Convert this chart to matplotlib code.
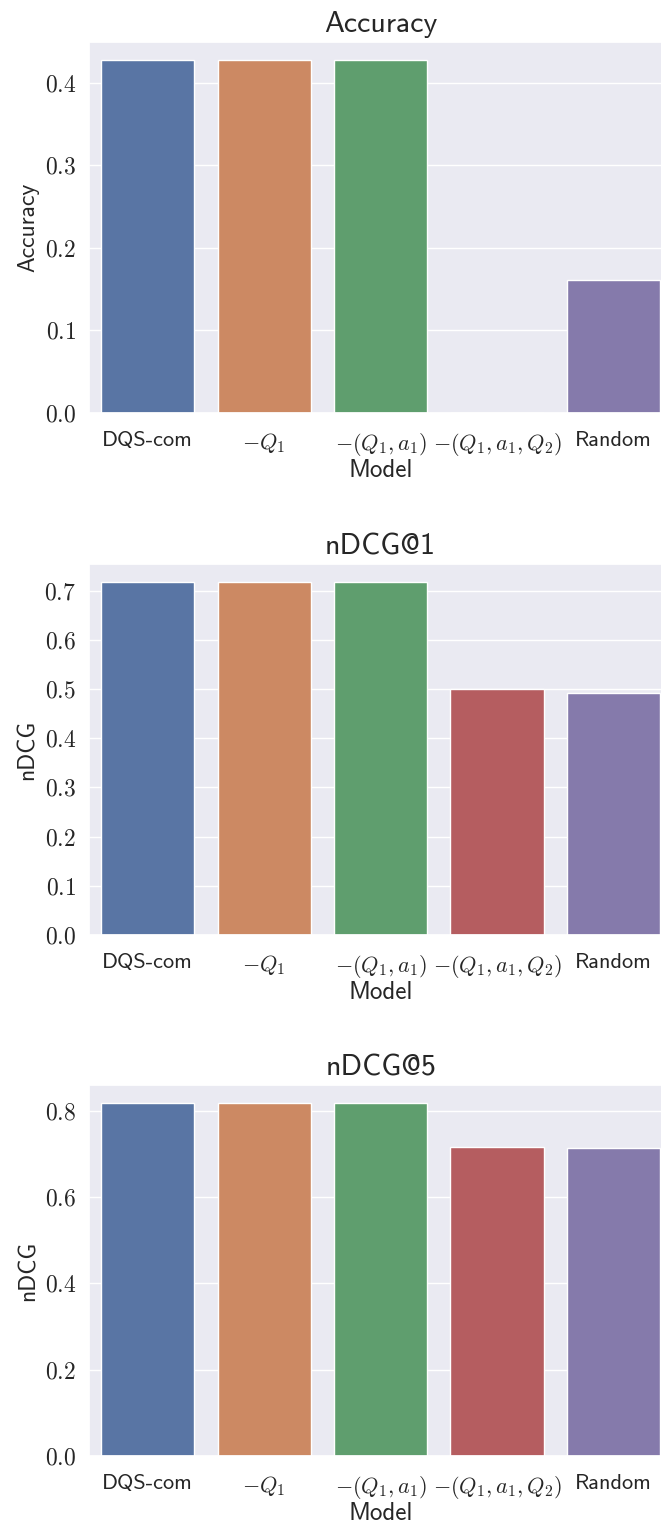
import matplotlib
matplotlib.use("Agg")
import matplotlib.pyplot as plt
import seaborn as sns
from matplotlib.ticker import FuncFormatter, MultipleLocator

models = ["DQS-com", r"$-Q_1$", r"$-(Q_1, a_1)$", r"$-(Q_1, a_1, Q_2)$", "Random"]
accuracy = [0.428, 0.428, 0.428, 0.0, 0.161]
ndcg1 = [0.718, 0.718, 0.718, 0.499, 0.491]
ndcg5 = [0.819, 0.819, 0.819, 0.717, 0.713]

panels = [
    ("Accuracy", "Accuracy", accuracy, 0.1),
    ("nDCG@1", "nDCG", ndcg1, 0.1),
    ("nDCG@5", "nDCG", ndcg5, 0.2),
]

sns.set_theme(style="darkgrid")
plt.rcParams["font.family"] = ["cmss10", "DejaVu Sans"]
plt.rcParams["mathtext.fontset"] = "cm"
plt.rcParams["axes.unicode_minus"] = False

fig = plt.figure(figsize=(6.61, 15.26), dpi=100)
bottoms = [0.7294, 0.3873, 0.0459]
for (title, ylabel, vals, step), b in zip(panels, bottoms):
    ax = fig.add_axes([0.1353, b, 0.881, 0.2431])
    sns.barplot(x=models, y=vals, hue=models, palette="deep", saturation=0.75,
                legend=False, ax=ax)
    ax.set_title(title, fontsize=21.5, pad=7)
    ax.set_xlabel("Model", fontsize=18, labelpad=1)
    ax.set_ylabel(ylabel, fontsize=17)
    ax.yaxis.set_major_locator(MultipleLocator(step))
    ax.yaxis.set_major_formatter(FuncFormatter(lambda v, p: f"${v:.1f}$"))
    ax.tick_params(axis="y", labelsize=17)
    ax.tick_params(axis="x", labelsize=16, pad=7)

fig.savefig("out.png", dpi=100)
